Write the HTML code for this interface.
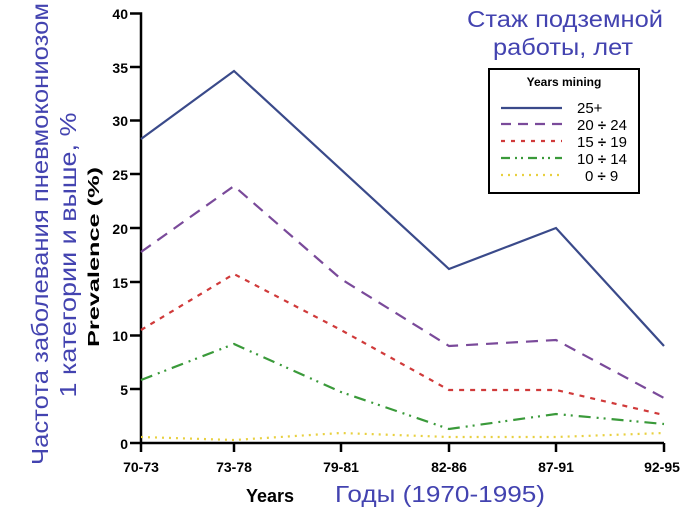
<!DOCTYPE html>
<html><head><meta charset="utf-8"><style>body{margin:0;background:#fff}svg{display:block}</style></head>
<body>
<svg width="685" height="512" viewBox="0 0 685 512" xmlns="http://www.w3.org/2000/svg" font-family="Liberation Sans, Arial, sans-serif">
<g fill="#4343b0" font-size="23">
<text x="565" y="27" text-anchor="middle" textLength="196" lengthAdjust="spacingAndGlyphs">Стаж подземной</text>
<text x="563" y="55" text-anchor="middle" textLength="140" lengthAdjust="spacingAndGlyphs">работы, лет</text>
<text transform="translate(48,234) rotate(-90)" text-anchor="middle" textLength="462" lengthAdjust="spacingAndGlyphs">Частота заболевания пневмокониозом</text>
<text transform="translate(76,255) rotate(-90)" text-anchor="middle" textLength="285" lengthAdjust="spacingAndGlyphs">1 категории и выше, %</text>
<text x="335" y="502" textLength="210" lengthAdjust="spacingAndGlyphs">Годы (1970-1995)</text>
</g>
<text transform="translate(99,257) rotate(-90)" text-anchor="middle" font-size="16" font-weight="bold" textLength="180" lengthAdjust="spacingAndGlyphs">Prevalence (%)</text>
<text x="246" y="502" font-size="18" font-weight="bold">Years</text>
<g stroke="#000" stroke-width="2.5" fill="none">
<path d="M130,13.5H141V443H664"/>
<path d="M130,67H141M130,120.5H141M130,174H141M130,228H141M130,282H141M130,335.5H141M130,389H141M130,443H141"/>
<path d="M141,443V452M234,443V452M341,443V452M449,443V452M556,443V452M664,443V452"/>
</g>
<g font-size="14" font-weight="bold" text-anchor="end">
<text x="128" y="19">40</text><text x="128" y="73">35</text><text x="128" y="126">30</text><text x="128" y="180">25</text>
<text x="128" y="234">20</text><text x="128" y="288">15</text><text x="128" y="341">10</text><text x="128" y="395">5</text><text x="128" y="449">0</text>
</g>
<g font-size="14" font-weight="bold" text-anchor="middle">
<text x="141" y="472">70-73</text><text x="234" y="472">73-78</text><text x="341" y="472">79-81</text>
<text x="449" y="472">82-86</text><text x="556" y="472">87-91</text><text x="662" y="472">92-95</text>
</g>
<g fill="none" stroke-width="2.2">
<polyline stroke="#3a4a8a" points="141,139 234,71 449,269 556,228 664,346"/>
<polyline stroke="#7a4a9a" stroke-dasharray="12,8" points="141,252 234,186 341,279 449,346 556,340 664,398"/>
<polyline stroke="#d03a3a" stroke-dasharray="5,6" points="141,330 234,274 341,330 449,390 556,390 664,415"/>
<polyline stroke="#3a9a3a" stroke-dasharray="12,6,2,5,2,6" points="141,380 234,344 341,392 449,429 556,414 664,424"/>
<polyline stroke="#e8d040" stroke-dasharray="2,5" points="141,437 234,440 341,433 449,437 556,437 664,433"/>
</g>
<rect x="489" y="69" width="150" height="124" fill="#fff" stroke="#000" stroke-width="2"/>
<text x="564" y="86" font-size="12" font-weight="bold" text-anchor="middle">Years mining</text>
<g fill="none" stroke-width="2.2">
<line x1="501" y1="108" x2="562" y2="108" stroke="#3a4a8a"/>
<line x1="501" y1="124" x2="562" y2="124" stroke="#7a4a9a" stroke-dasharray="10,7"/>
<line x1="501" y1="141" x2="562" y2="141" stroke="#d03a3a" stroke-dasharray="4,6"/>
<line x1="501" y1="158" x2="562" y2="158" stroke="#3a9a3a" stroke-dasharray="9,5,2,4,2,5"/>
<line x1="501" y1="175" x2="562" y2="175" stroke="#e8d040" stroke-dasharray="2,5"/>
</g>
<g font-size="15">
<text x="577" y="113">25+</text>
<text x="577" y="130">20 <tspan font-weight="bold">÷</tspan> 24</text>
<text x="577" y="147">15 <tspan font-weight="bold">÷</tspan> 19</text>
<text x="577" y="164">10 <tspan font-weight="bold">÷</tspan> 14</text>
<text x="585" y="181">0 <tspan font-weight="bold">÷</tspan> 9</text>
</g>
</svg>
</body></html>
